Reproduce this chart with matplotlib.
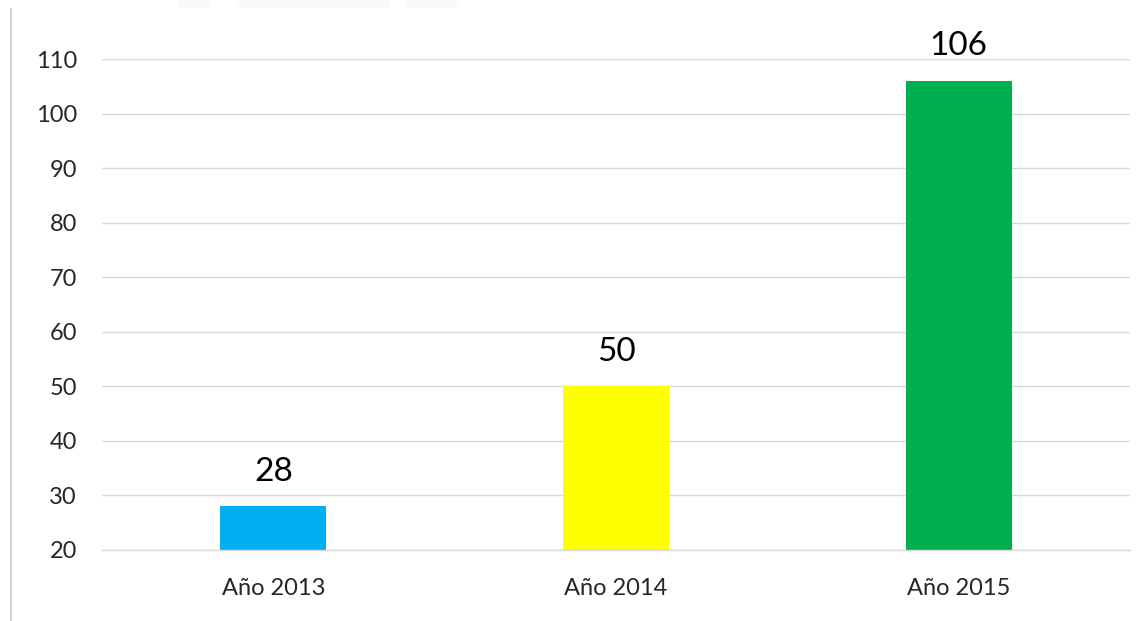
import matplotlib.pyplot as plt
from matplotlib.patches import Rectangle
import numpy as np

# data
categories = ['Año 2013', 'Año 2014', 'Año 2015']
values = [28, 50, 106]
bar_colors = ['#00B0F0', '#FFFF00', '#00B050']
yticks = [20, 30, 40, 50, 60, 70, 80, 90, 100, 110]

plt.rcParams['font.family'] = ['Lato', 'DejaVu Sans']

fig = plt.figure(figsize=(11.45, 6.21), dpi=100)
ax = fig.add_axes([102 / 1145, 1 - 550 / 621, 1028 / 1145, 491 / 621])

x = np.arange(len(categories))
bars = ax.bar(x, values, width=0.31, color=bar_colors, zorder=2)

for b, v in zip(bars, values):
    ax.annotate(str(v), (b.get_x() + b.get_width() / 2, v),
                xytext=(0, 14), textcoords='offset points',
                ha='center', va='bottom', fontsize=24, color='black',
                annotation_clip=False)

ax.set_xlim(-0.5, 2.5)
ax.set_ylim(20, 110)
ax.set_yticks(yticks)
ax.set_xticks(x)
ax.set_xticklabels(categories)
ax.tick_params(axis='both', length=0, labelsize=17, colors='#262626')
ax.tick_params(axis='y', pad=18)
ax.tick_params(axis='x', pad=20)

ax.grid(axis='y', color='#d9d9d9', linewidth=1, zorder=0)
for s in ['top', 'right', 'left']:
    ax.spines[s].set_visible(False)
ax.spines['bottom'].set_color('#d9d9d9')
ax.spines['bottom'].set_linewidth(1)

# page edge and faint header boxes
fig.add_artist(Rectangle((10 / 1145, 0), 2 / 1145, 1 - 8 / 621,
                         transform=fig.transFigure, color='#d4d4d4', lw=0))
for x0, x1 in [(178, 210), (236, 390), (407, 460)]:
    fig.add_artist(Rectangle((x0 / 1145, 1 - 8 / 621), (x1 - x0) / 1145, 8 / 621,
                             transform=fig.transFigure, color='#fafafa', lw=0))

fig.savefig('out.png', dpi=100)
